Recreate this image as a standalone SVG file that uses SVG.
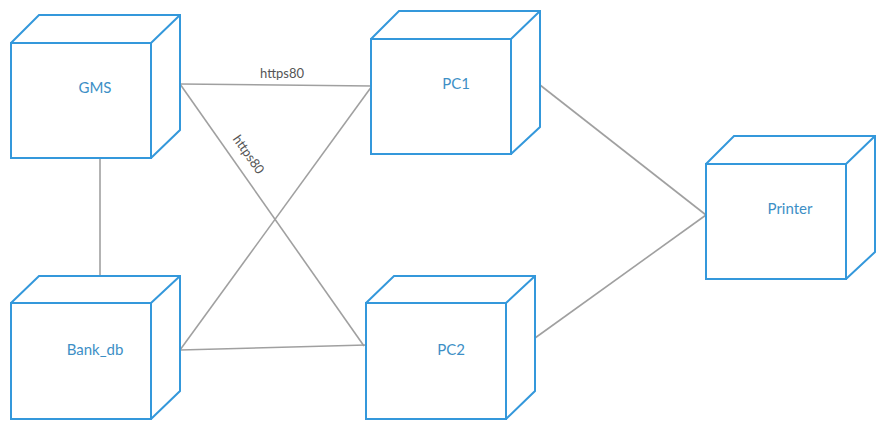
<svg xmlns="http://www.w3.org/2000/svg" width="885" height="430" viewBox="0 0 885 430">
<style>
.box{fill:#fff;stroke:#3498db;stroke-width:2;stroke-linejoin:miter}
.nl{font-family:Lato,"Liberation Sans",sans-serif;font-size:15px;fill:#3d8fc6;text-anchor:middle;dominant-baseline:central}
.edge{stroke:#a0a0a0;stroke-width:1.6;fill:none}
.el{font-family:Lato,"Liberation Sans",sans-serif;font-size:13px;fill:#555;text-anchor:middle}
</style>
<rect width="885" height="430" fill="#fff"/>
<g id="connectors">
<line class="edge" x1="100" y1="158" x2="100" y2="276"/>
<line class="edge" x1="180" y1="84" x2="372" y2="86"/>
<line class="edge" x1="180" y1="84" x2="364" y2="346"/>
<line class="edge" x1="180" y1="350" x2="372" y2="86"/>
<line class="edge" x1="180" y1="350" x2="366" y2="345"/>
<line class="edge" x1="540" y1="85" x2="706" y2="215"/>
<line class="edge" x1="535" y1="338" x2="706" y2="215"/>
<text class="el" x="282" y="78">https80</text>
<text class="el" transform="translate(245,157) rotate(54.8)" x="0" y="0">https80</text>
</g>
<g id="GMS">
<path class="box" d="M11 43 L39 15 L180 15 L180 130 L151 158 M151 43 L180 15"/>
<rect class="box" x="11" y="43" width="140" height="115"/>
<text class="nl" x="95" y="87">GMS</text>
</g>
<g id="Bank_db">
<path class="box" d="M11 303 L39 276 L180 276 L180 391 L151 419 M151 303 L180 276"/>
<rect class="box" x="11" y="303" width="140" height="116"/>
<text class="nl" x="95" y="349">Bank_db</text>
</g>
<g id="PC1">
<path class="box" d="M371 39 L399 11 L540 11 L540 127 L511 154 M511 39 L540 11"/>
<rect class="box" x="371" y="39" width="140" height="115"/>
<text class="nl" x="456" y="83">PC1</text>
</g>
<g id="PC2">
<path class="box" d="M366 303 L394 276 L535 276 L535 391 L506 419 M506 303 L535 276"/>
<rect class="box" x="366" y="303" width="140" height="116"/>
<text class="nl" x="451" y="349">PC2</text>
</g>
<g id="Printer">
<path class="box" d="M706 164 L734 136 L875 136 L875 252 L846 279 M846 164 L875 136"/>
<rect class="box" x="706" y="164" width="140" height="115"/>
<text class="nl" x="790" y="208">Printer</text>
</g>
</svg>
